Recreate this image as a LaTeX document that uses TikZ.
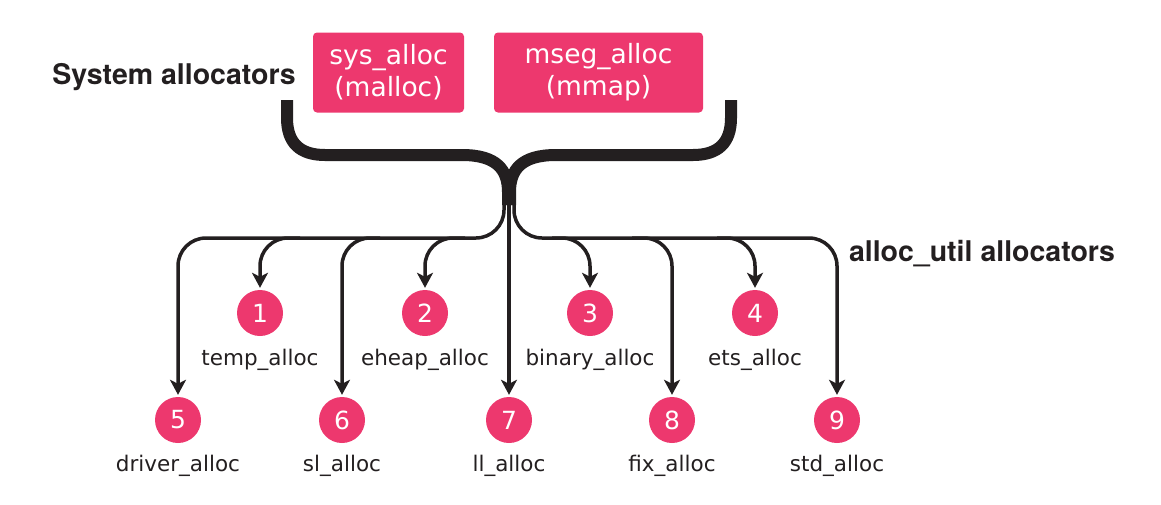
\documentclass[tikz,border=0pt]{standalone}
\usepackage{fontspec}
\setmainfont{DejaVu Sans}
\newfontfamily\headfont{TeX Gyre Heros}
\usetikzlibrary{arrows.meta}
\definecolor{pinkc}{RGB}{237,56,110}
\definecolor{inkc}{RGB}{35,31,32}
\tikzset{
  sysbox/.style={fill=pinkc, rounded corners=4pt, text=white, align=center, font=\fontsize{26.5}{32}\selectfont, inner sep=0pt},
  num/.style={circle, fill=pinkc, minimum size=46pt, inner sep=0pt, text=white, font=\fontsize{25}{26}\selectfont},
  lab/.style={anchor=base, text=inkc, font=\fontsize{21.5}{24}\selectfont, inner sep=0pt},
  head/.style={anchor=base, text=inkc, font=\headfont\bfseries\fontsize{28.5}{30}\selectfont, inner sep=0pt},
  brace/.style={draw=inkc, line width=12pt},
  conn/.style={draw=inkc, line width=3.5pt, rounded corners=28pt, -{Stealth[length=15pt, width=16pt, inset=4pt]}, shorten >=2pt},
}
\begin{document}
\begin{tikzpicture}[x=1pt, y=-1pt]
\useasboundingbox (0,0) rectangle (1161,504);
% system allocators
\node[sysbox, minimum width=151pt, minimum height=80pt] (sys) at (388.5,72.5) {sys\_alloc\\(malloc)};
\node[sysbox, minimum width=209pt, minimum height=80pt] (mseg) at (598.5,72.5) {mseg\_alloc\\(mmap)};
\node[head] (syslab) at (174,84) {System allocators};
\node[head] (utillab) at (982,261) {alloc\_util allocators};
% brace
\coordinate (bl) at (287,100);
\coordinate (br) at (731,100);
\coordinate (neck) at (509,205);
\draw[brace] (bl) -- (287,118) .. controls (287,143) and (300,155) .. (325,155) -- (462,155) .. controls (497,155) and (508,170) .. (508,192) -- (508,205);
\draw[brace] (br) -- (731,118) .. controls (731,143) and (718,155) .. (693,155) -- (556,155) .. controls (521,155) and (510,170) .. (510,192) -- (510,205);
% circles
\node[num] (c1) at (260,313) {1};
\node[num] (c2) at (425,313) {2};
\node[num] (c3) at (590,313) {3};
\node[num] (c4) at (755,313) {4};
\node[num] (c5) at (178,420) {5};
\node[num] (c6) at (342,420) {6};
\node[num] (c7) at (509,420) {7};
\node[num] (c8) at (672,420) {8};
\node[num] (c9) at (837,420) {9};
% labels
\node[lab] (l1) at (260,365) {temp\_alloc};
\node[lab] (l2) at (425,365) {eheap\_alloc};
\node[lab] (l3) at (590,365) {binary\_alloc};
\node[lab] (l4) at (755,365) {ets\_alloc};
\node[lab] (l5) at (178,471) {driver\_alloc};
\node[lab] (l6) at (342,471) {sl\_alloc};
\node[lab] (l7) at (509,471) {ll\_alloc};
\node[lab] (l8) at (672,471) {fix\_alloc};
\node[lab] (l9) at (837,471) {std\_alloc};
% connectors
\coordinate (sL) at (504,195);
\coordinate (sR) at (514,195);
\coordinate (sC) at (509,195);
\coordinate (b1) at (300,238);
\coordinate (b2) at (465,238);
\coordinate (b6) at (380,238);
\coordinate (b3) at (552,238);
\coordinate (b4) at (717,238);
\coordinate (b8) at (632,238);
\draw[conn] (sL) |- (178,238) -- (c5);
\draw[conn] (sR) |- (837,238) -- (c9);
\draw[conn] (sC) -- (c7);
\draw[conn] (b1) -| (c1);
\draw[conn] (b2) -| (c2);
\draw[conn] (b6) -| (c6);
\draw[conn] (b3) -| (c3);
\draw[conn] (b4) -| (c4);
\draw[conn] (b8) -| (c8);
\end{tikzpicture}
\end{document}
